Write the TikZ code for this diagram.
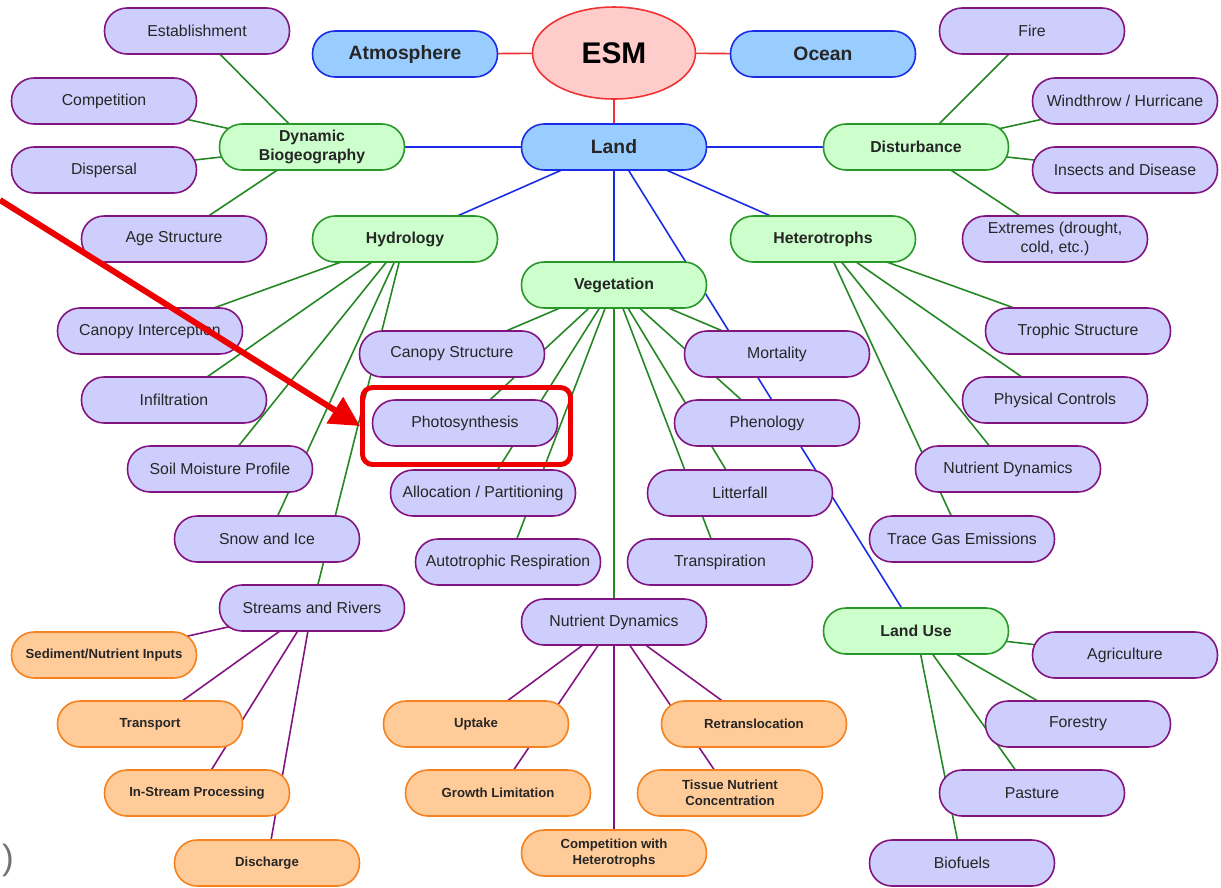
\documentclass[tikz,border=0pt]{standalone}
\usepackage{fontspec}
\setmainfont{Liberation Sans}
\usepackage{xcolor}
\usepackage{tikz}
\usetikzlibrary{arrows.meta,backgrounds,shapes.geometric}

\definecolor{lavfill}{RGB}{206,206,252}
\definecolor{purpbd}{RGB}{130,20,130}
\definecolor{grnfill}{RGB}{204,255,204}
\definecolor{grnbd}{RGB}{40,150,40}
\definecolor{bluefill}{RGB}{153,204,255}
\definecolor{bluebd}{RGB}{25,45,230}
\definecolor{esmfill}{RGB}{255,204,204}
\definecolor{esmbd}{RGB}{240,50,50}
\definecolor{orfill}{RGB}{255,204,153}
\definecolor{orbd}{RGB}{245,130,30}
\definecolor{alert}{RGB}{238,0,0}

\tikzset{
  pill/.style={rectangle,rounded corners=0.45cm,minimum width=3.7cm,minimum height=0.92cm,
    line width=0.9pt,align=center,inner sep=1pt,text=black!85},
  leaf/.style={pill,draw=purpbd,fill=lavfill,font=\fontsize{9}{10.5}\selectfont},
  sub/.style={pill,draw=grnbd,fill=grnfill,font=\fontsize{9}{10.5}\selectfont\bfseries},
  core/.style={pill,draw=bluebd,fill=bluefill,font=\fontsize{11}{13}\selectfont\bfseries},
  proc/.style={pill,draw=orbd,fill=orfill,font=\fontsize{7.5}{9}\selectfont\bfseries},
  esmnode/.style={ellipse,draw=esmbd,fill=esmfill,line width=0.9pt,minimum width=3.26cm,
    minimum height=1.84cm,inner sep=0pt,font=\fontsize{17}{20}\selectfont\bfseries},
  rline/.style={draw=esmbd,line width=0.9pt},
  bline/.style={draw=bluebd,line width=0.9pt},
  gline/.style={draw=grnbd!90!black,line width=0.9pt},
  pline/.style={draw=purpbd,line width=0.9pt},
}

\begin{document}
\begin{tikzpicture}[x=0.02cm,y=-0.02cm]
  \useasboundingbox (0,0) rectangle (1221,887);

  % core
  \node[esmnode] (esm) at (614,53) {ESM};
  \node[core] (atm) at (405,54) {Atmosphere};
  \node[core] (ocean) at (823,54) {Ocean};
  \node[core] (land) at (614,147) {Land};

  % land components
  \node[sub] (dynbio) at (312,147) {Dynamic\\Biogeography};
  \node[sub] (dist) at (916,147) {Disturbance};
  \node[sub] (hydro) at (405,239) {Hydrology};
  \node[sub] (hetero) at (823,239) {Heterotrophs};
  \node[sub] (veg) at (614,285) {Vegetation};
  \node[sub] (landuse) at (916,631) {Land Use};

  % dynamic biogeography
  \node[leaf] (estab) at (197,31) {Establishment};
  \node[leaf] (compet) at (104,101) {Competition};
  \node[leaf] (dispers) at (104,170) {Dispersal};
  \node[leaf] (agestr) at (174,239) {Age Structure};

  % disturbance
  \node[leaf] (fire) at (1032,31) {Fire};
  \node[leaf] (wind) at (1125,101) {Windthrow / Hurricane};
  \node[leaf] (insects) at (1125,170) {Insects and Disease};
  \node[leaf] (extremes) at (1055,239) {Extremes (drought,\\cold, etc.)};

  % hydrology
  \node[leaf] (canint) at (150,331) {Canopy Interception};
  \node[leaf] (infil) at (174,400) {Infiltration};
  \node[leaf] (soilm) at (220,469) {Soil Moisture Profile};
  \node[leaf] (snow) at (267,539) {Snow and Ice};
  \node[leaf] (streams) at (312,608) {Streams and Rivers};

  % vegetation
  \node[leaf] (canstr) at (452,354) {Canopy Structure};
  \node[leaf] (photo) at (465,423) {Photosynthesis};
  \node[leaf] (alloc) at (483,493) {Allocation / Partitioning};
  \node[leaf] (autoresp) at (508,562) {Autotrophic Respiration};
  \node[leaf] (mort) at (777,354) {Mortality};
  \node[leaf] (pheno) at (767,423) {Phenology};
  \node[leaf] (litter) at (740,493) {Litterfall};
  \node[leaf] (transp) at (720,562) {Transpiration};
  \node[leaf] (nutveg) at (614,622) {Nutrient Dynamics};

  % heterotrophs
  \node[leaf] (trophic) at (1078,331) {Trophic Structure};
  \node[leaf] (physctl) at (1055,400) {Physical Controls};
  \node[leaf] (nuthet) at (1008,469) {Nutrient Dynamics};
  \node[leaf] (tracegas) at (962,539) {Trace Gas Emissions};

  % land use
  \node[leaf] (agri) at (1125,655) {Agriculture};
  \node[leaf] (forestry) at (1078,724) {Forestry};
  \node[leaf] (pasture) at (1032,793) {Pasture};
  \node[leaf] (biofuels) at (962,863) {Biofuels};

  % streams and rivers
  \node[proc] (sediment) at (104,655) {Sediment/Nutrient Inputs};
  \node[proc] (transport) at (150,724) {Transport};
  \node[proc] (instream) at (197,793) {In-Stream Processing};
  \node[proc] (discharge) at (267,863) {Discharge};

  % nutrient dynamics
  \node[proc] (uptake) at (476,724) {Uptake};
  \node[proc] (growth) at (498,793) {Growth Limitation};
  \node[proc] (compwith) at (614,853) {Competition with\\Heterotrophs};
  \node[proc] (retrans) at (754,724) {Retranslocation};
  \node[proc] (tissue) at (730,793) {Tissue Nutrient\\Concentration};

  \node[text=black!55,font=\fontsize{20}{20}\selectfont] (paren) at (8,860) {)};

  \begin{scope}[on background layer]
    \fill[white] (0,0) rectangle (1221,887);
    \foreach \n in {atm,ocean,land} \draw[rline] (esm.center) -- (\n.center);
    \foreach \n in {dynbio,dist,hydro,veg,hetero,landuse} \draw[bline] (land.center) -- (\n.center);
    \foreach \n in {estab,compet,dispers,agestr} \draw[gline] (dynbio.center) -- (\n.center);
    \foreach \n in {fire,wind,insects,extremes} \draw[gline] (dist.center) -- (\n.center);
    \foreach \n in {canint,infil,soilm,snow,streams} \draw[gline] (hydro.center) -- (\n.center);
    \foreach \n in {canstr,photo,alloc,autoresp,mort,pheno,litter,transp,nutveg}
      \draw[gline] (veg.center) -- (\n.center);
    \foreach \n in {trophic,physctl,nuthet,tracegas} \draw[gline] (hetero.center) -- (\n.center);
    \foreach \n in {agri,forestry,pasture,biofuels} \draw[gline] (landuse.center) -- (\n.center);
    \foreach \n in {sediment,transport,instream,discharge} \draw[pline] (streams.center) -- (\n.center);
    \foreach \n in {uptake,growth,compwith,retrans,tissue} \draw[pline] (nutveg.center) -- (\n.center);
  \end{scope}

  % highlight
  \node[draw=alert,line width=2.8pt,rounded corners=0.2cm,minimum width=4.16cm,
    minimum height=1.54cm] (hilite) at (466.5,426) {};
  \coordinate (arrowtail) at (0,200);
  \draw[alert,line width=3.4pt,-{Triangle[length=17pt,width=17pt]}] (arrowtail) -- (hilite.west);
\end{tikzpicture}
\end{document}
